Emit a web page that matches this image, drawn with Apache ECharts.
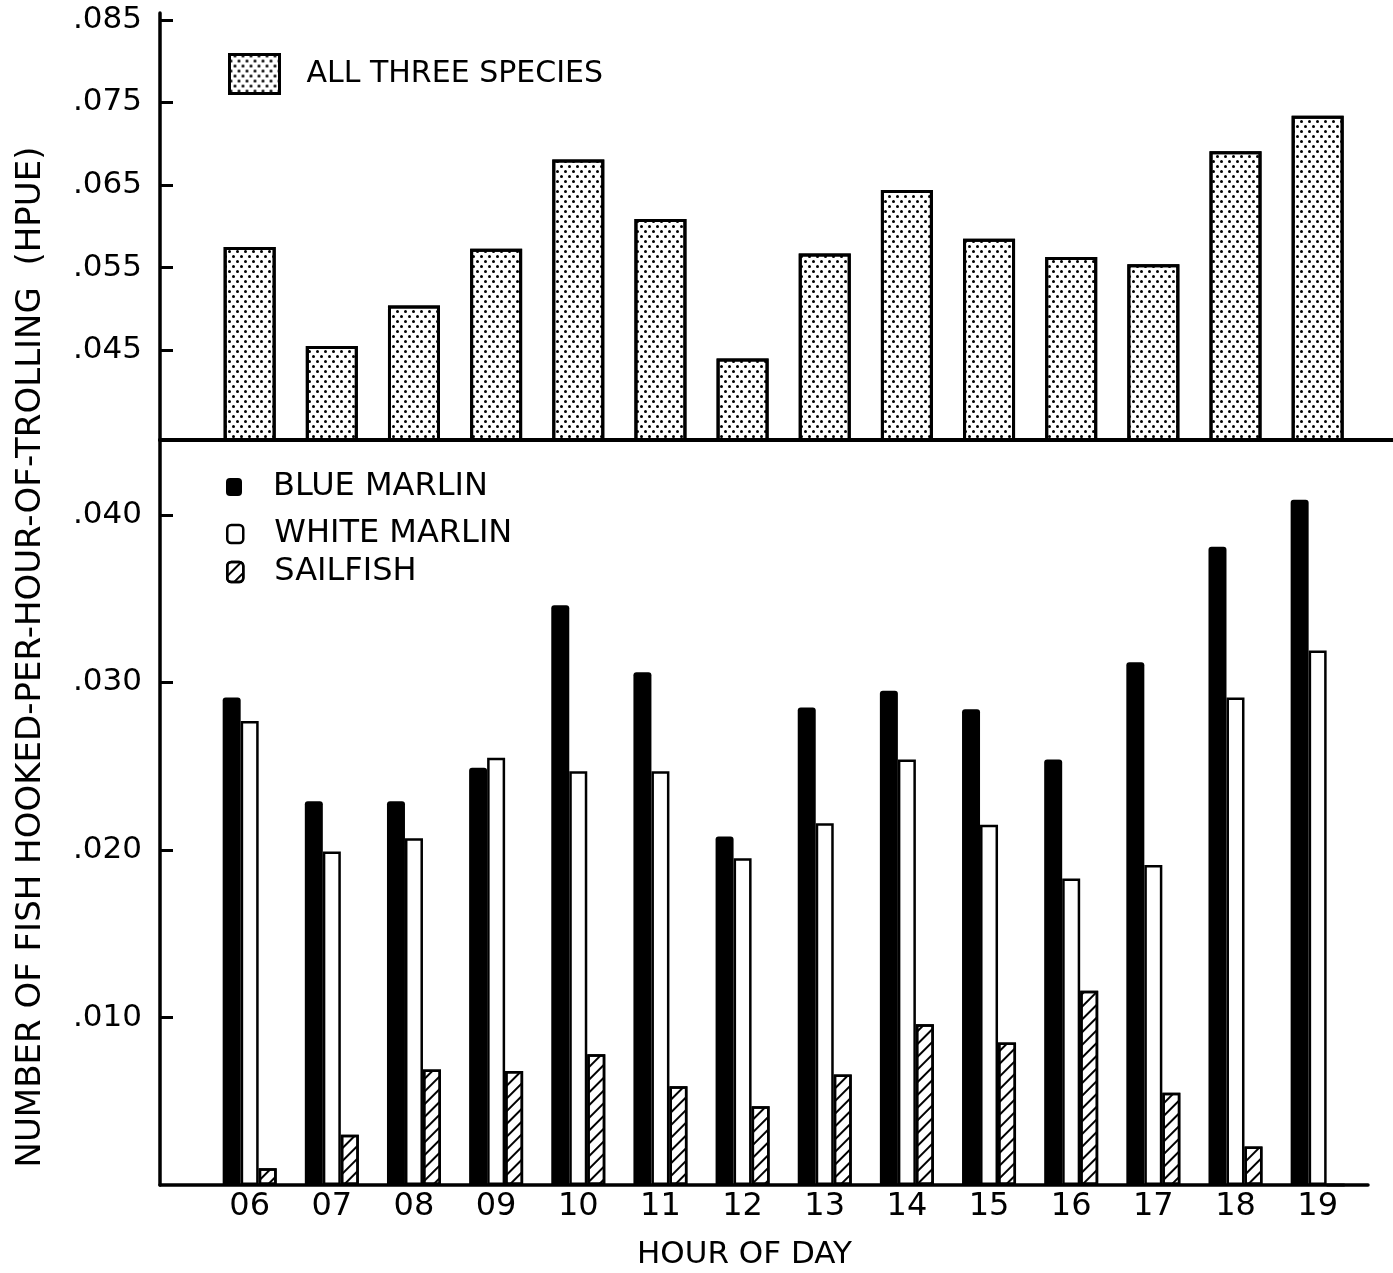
<!DOCTYPE html>
<html><head><meta charset="utf-8">
<script src="https://cdn.jsdelivr.net/npm/echarts@6/dist/echarts.min.js"></script>
<style>html,body{margin:0;padding:0;background:#fff}#c{width:1393px;height:1273px}</style>
</head><body><div id="c"></div>
<script>
const hours = ['06','07','08','09','10','11','12','13','14','15','16','17','18','19'];
const allThree = [0.0575,0.0455,0.0504,0.0573,0.0681,0.0609,0.0440,0.0567,0.0644,0.0585,0.0563,0.0554,0.0691,0.0734];
const blueMarlin = [0.0291,0.0229,0.0229,0.0249,0.0346,0.0306,0.0208,0.0285,0.0295,0.0284,0.0254,0.0312,0.0381,0.0409];
const whiteMarlin = [0.0277,0.0199,0.0207,0.0255,0.0247,0.0247,0.0195,0.0216,0.0254,0.0215,0.0183,0.0191,0.0291,0.0319];
const sailfish = [0.0010,0.0030,0.0069,0.0068,0.0078,0.0059,0.0047,0.0066,0.0096,0.0085,0.0116,0.0055,0.0023,0];
const topTicks = [0.045,0.055,0.065,0.075,0.085];
const bottomTicks = [0.010,0.020,0.030,0.040];

const FONT = '"DejaVu Sans", sans-serif';
const idx = hours.map((h, i) => i);
const fmt = v => '.' + String(Math.round(v * 1000)).padStart(3, '0');
const pts = arr => arr.map((v, i) => [i, v]);

const dotDecal = {
  symbol: 'circle', symbolSize: 1, color: '#000',
  dashArrayX: [[3, 5], [0, 4, 3, 1]], dashArrayY: [3, 2], rotation: 0
};
const hatchDecal = {
  symbol: 'rect', symbolSize: 1, color: '#000',
  dashArrayX: [1, 0], dashArrayY: [2, 7], rotation: -Math.PI / 4
};

const chart = echarts.init(document.getElementById('c'), null, {renderer: 'canvas'});
const yAxisCommon = (ticks) => ({
  type: 'value',
  axisLine: {show: true, onZero: false, lineStyle: {color: '#000', width: 3.5}},
  axisTick: {show: true, inside: true, length: 13, customValues: ticks, lineStyle: {color: '#000', width: 3}},
  axisLabel: {customValues: ticks, formatter: fmt, fontSize: 31, margin: 18, color: '#000', fontFamily: FONT},
  splitLine: {show: false},
  z: 5
});

chart.setOption({
  animation: false,
  backgroundColor: '#fff',
  grid: [
    {left: 160, right: 0, top: 13, height: 427, outerBoundsMode: 'none', containLabel: false},
    {left: 160, right: 25, top: 440, height: 745, outerBoundsMode: 'none', containLabel: false}
  ],
  xAxis: [
    {gridIndex: 0, type: 'value', min: -1.0915, max: 13.917,
     axisLine: {show: true, onZero: false, lineStyle: {color: '#000', width: 4}},
     axisTick: {show: false}, axisLabel: {show: false}, splitLine: {show: false}, z: 5},
    {gridIndex: 1, type: 'value', min: -1.0915, max: 13.613,
     axisLine: {show: true, onZero: false, lineStyle: {color: '#000', width: 3.5}},
     axisTick: {show: false},
     axisLabel: {customValues: idx, formatter: v => hours[Math.round(v)], fontSize: 32, margin: 6, color: '#000', fontFamily: FONT},
     splitLine: {show: false},
     name: 'HOUR OF DAY', nameLocation: 'middle', nameGap: 54,
     nameTextStyle: {fontSize: 31, color: '#000', fontFamily: FONT, padding: [0, 39, 0, 0]},
     z: 5}
  ],
  yAxis: [
    Object.assign({gridIndex: 0, min: 0.03413, max: 0.08583}, yAxisCommon(topTicks)),
    Object.assign({gridIndex: 1, min: 0, max: 0.04447}, yAxisCommon(bottomTicks))
  ],
  legend: [
    {data: ['ALL THREE SPECIES'], left: 228, top: 53, padding: 0, itemWidth: 50, itemHeight: 39, icon: 'rect',
     selectedMode: false, itemStyle: {borderWidth: 3, borderColor: '#000'},
     textStyle: {fontSize: 30, color: '#000', fontFamily: FONT, padding: [4, 0, 0, 22]}},
    {data: ['BLUE MARLIN'], left: 226, top: 471, padding: 0, itemWidth: 16, itemHeight: 18, icon: 'roundRect',
     selectedMode: false,
     textStyle: {fontSize: 32, lineHeight: 30, color: '#000', fontFamily: FONT, padding: [0, 0, 0, 26]}},
    {data: ['WHITE MARLIN'], left: 226, top: 518, padding: 0, itemWidth: 16, itemHeight: 18, icon: 'roundRect',
     selectedMode: false, itemStyle: {borderWidth: 2.5, borderColor: '#000'},
     textStyle: {fontSize: 32, lineHeight: 30, color: '#000', fontFamily: FONT, padding: [0, 0, 0, 26]}},
    {data: ['SAILFISH'], left: 226, top: 556, padding: 0, itemWidth: 16, itemHeight: 20, icon: 'roundRect',
     selectedMode: false, itemStyle: {borderWidth: 2.5, borderColor: '#000'},
     textStyle: {fontSize: 32, lineHeight: 30, color: '#000', fontFamily: FONT, padding: [0, 0, 0, 26]}}
  ],
  graphic: [
    {type: 'text', x: 31, y: 657, rotation: Math.PI / 2, silent: true,
     style: {text: 'NUMBER OF FISH HOOKED-PER-HOUR-OF-TROLLING  (HPUE)', font: '34px "DejaVu Sans"', fill: '#000',
             align: 'center', verticalAlign: 'middle', textAlign: 'center', textVerticalAlign: 'middle'}}
  ],
  series: [
    {type: 'bar', name: 'ALL THREE SPECIES', xAxisIndex: 0, yAxisIndex: 0, data: pts(allThree),
     barWidth: 52, silent: true,
     itemStyle: {color: '#fff', borderColor: '#000', borderWidth: 3, decal: dotDecal}},
    {type: 'bar', name: 'BLUE MARLIN', xAxisIndex: 1, yAxisIndex: 1, data: pts(blueMarlin),
     barWidth: 18, barGap: '0%', silent: true,
     itemStyle: {color: '#000', borderRadius: [3, 3, 0, 0]}},
    {type: 'bar', name: 'WHITE MARLIN', xAxisIndex: 1, yAxisIndex: 1, data: pts(whiteMarlin),
     barWidth: 18, barGap: '0%', silent: true,
     itemStyle: {color: '#fff', borderColor: '#000', borderWidth: 2.5}},
    {type: 'bar', name: 'SAILFISH', xAxisIndex: 1, yAxisIndex: 1, data: pts(sailfish),
     barWidth: 18, barGap: '0%', silent: true,
     itemStyle: {color: '#fff', borderColor: '#000', borderWidth: 2.5, decal: hatchDecal}}
  ]
});
</script></body></html>
